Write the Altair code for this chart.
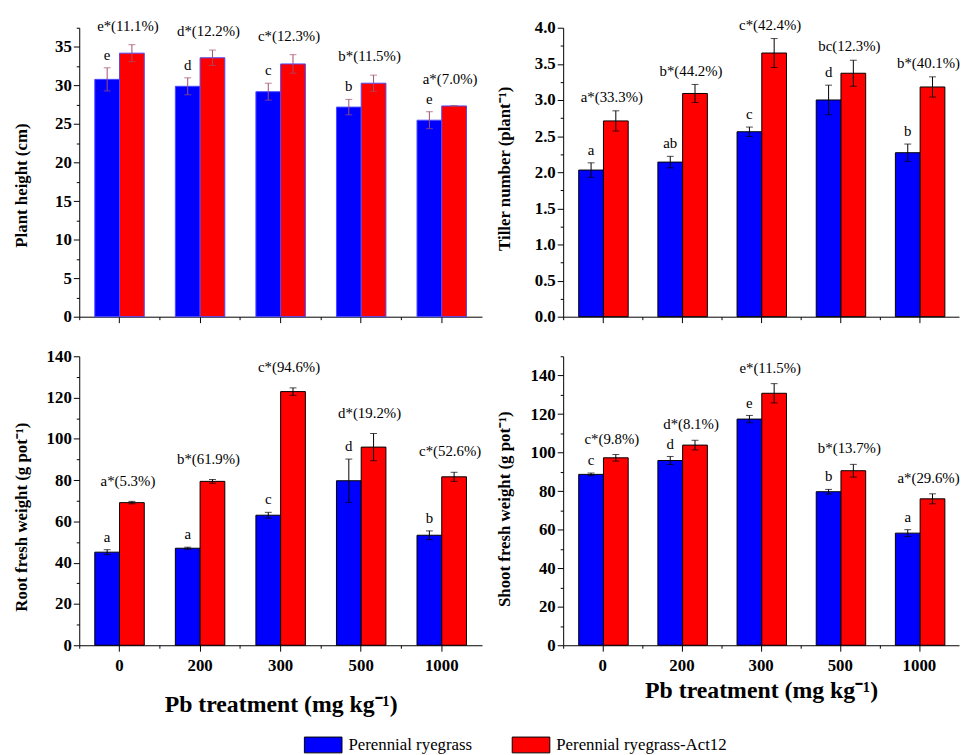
import altair as alt
import pandas as pd

FONT = "Liberation Serif"

groups = ["0", "200", "300", "500", "1000"]
series = ["Perennial ryegrass", "Perennial ryegrass-Act12"]
bar_colors = ["#0000ff", "#ff0000"]

# Plant height (cm)
ph_ctrl = [30.8, 29.9, 29.2, 27.2, 25.5]
ph_ctrl_err = [1.5, 1.1, 1.1, 1.0, 1.1]
ph_act = [34.2, 33.6, 32.8, 30.3, 27.35]
ph_act_err = [1.1, 1.0, 1.2, 1.05, 0.05]
ph_letters = ["e", "d", "c", "b", "e"]
ph_notes = ["e*(11.1%)", "d*(12.2%)", "c*(12.3%)", "b*(11.5%)", "a*(7.0%)"]

# Tiller number (plant-1)
tn_ctrl = [2.03, 2.14, 2.56, 3.00, 2.27]
tn_ctrl_err = [0.10, 0.08, 0.065, 0.205, 0.12]
tn_act = [2.71, 3.09, 3.65, 3.37, 3.18]
tn_act_err = [0.14, 0.125, 0.20, 0.18, 0.14]
tn_letters = ["a", "ab", "c", "d", "b"]
tn_notes = ["a*(33.3%)", "b*(44.2%)", "c*(42.4%)", "bc(12.3%)", "b*(40.1%)"]

# Root fresh weight (g pot-1)
rw_ctrl = [45.1, 47.0, 63.0, 79.7, 53.3]
rw_ctrl_err = [1.2, 0.5, 1.4, 10.5, 2.1]
rw_act = [69.1, 79.4, 122.9, 96.0, 81.6]
rw_act_err = [0.6, 0.9, 1.8, 6.6, 2.2]
rw_letters = ["a", "a", "c", "d", "b"]
rw_notes = ["a*(5.3%)", "b*(61.9%)", "c*(94.6%)", "d*(19.2%)", "c*(52.6%)"]

# Shoot fresh weight (g pot-1)
sw_ctrl = [88.7, 95.9, 117.4, 79.7, 58.2]
sw_ctrl_err = [0.7, 2.1, 1.9, 1.2, 1.8]
sw_act = [97.3, 103.9, 130.8, 90.6, 76.0]
sw_act_err = [1.7, 2.5, 5.0, 3.3, 2.6]
sw_letters = ["c", "d", "e", "b", "a"]
sw_notes = ["c*(9.8%)", "d*(8.1%)", "e*(11.5%)", "b*(13.7%)", "a*(29.6%)"]

ph_major = [0, 5, 10, 15, 20, 25, 30, 35]
ph_minor = [2.5, 7.5, 12.5, 17.5, 22.5, 27.5, 32.5, 37.5]
tn_major = [0, 0.5, 1.0, 1.5, 2.0, 2.5, 3.0, 3.5, 4.0]
tn_minor = [0.25, 0.75, 1.25, 1.75, 2.25, 2.75, 3.25, 3.75]
rw_major = [0, 20, 40, 60, 80, 100, 120, 140]
rw_minor = [10, 30, 50, 70, 90, 110, 130]
sw_major = [0, 20, 40, 60, 80, 100, 120, 140]
sw_minor = [10, 30, 50, 70, 90, 110, 130, 150]

BAR_W = 25
H = 292
NOTE_CLEAR_PX = 14  # keeps a note clear of the letter over the neighbouring bar

legend = alt.Legend(
    orient="none", legendX=227, legendY=705, direction="horizontal", title=None,
    symbolType="M-1,-0.42L1,-0.42L1,0.42L-1,0.42Z", symbolSize=1444,
    symbolStrokeColor="black", symbolStrokeWidth=1, symbolOpacity=1,
    labelFont=FONT, labelFontSize=17, labelColor="black", labelOffset=6,
    labelLimit=400, columnPadding=37, padding=0,
)


def panel(ctrl, ctrl_err, act, act_err, letters, notes, ytitle, ymax, major, minor,
          fmt, width, bottom, bar_stroke, err_color, note_dy, ytitle_x, ytitle_shift,
          xtitle_y=58):
    rows = []
    for i, g in enumerate(groups):
        for s, v, e in ((series[0], ctrl[i], ctrl_err[i]), (series[1], act[i], act_err[i])):
            rows.append({"group": g, "series": s, "value": v, "lo": v - e, "hi": v + e})
    df = pd.DataFrame(rows)
    ctrl_hi = [c + e for c, e in zip(ctrl, ctrl_err)]
    act_hi = [a + e for a, e in zip(act, act_err)]
    clear = NOTE_CLEAR_PX * ymax / H
    lab = pd.DataFrame({"group": groups, "series": series[0], "y": ctrl_hi, "text": letters})
    nts = pd.DataFrame({"group": groups, "series": series[1],
                        "y": [max(a, c + clear) for a, c in zip(act_hi, ctrl_hi)],
                        "text": notes})

    step = width / len(groups)
    po = (step / BAR_W - 2) / 2
    xscale = alt.Scale(domain=groups, paddingInner=0, paddingOuter=0)
    oscale = alt.Scale(domain=series, paddingInner=0, paddingOuter=po)
    yscale = alt.Scale(domain=[0, ymax], nice=False, zero=True)

    if bottom:
        xaxis = alt.Axis(title="Pb treatment (mg kg\u207b\u00b9)", labelAngle=0, labelFontSize=17,
                         labelFontWeight="bold", labelPadding=7, tickSize=6,
                         titleFontSize=24, titleFontWeight="bold", titleY=xtitle_y,
                         titleBaseline="middle", orient="bottom")
    else:
        xaxis = alt.Axis(title=None, labels=False, tickSize=6, orient="bottom")
    xminor = alt.Axis(title=None, labels=False, tickSize=3, domain=False, bandPosition=0,
                      orient="bottom")
    yaxis = alt.Axis(title=ytitle, values=major, format=fmt, tickSize=6, labelFontSize=17,
                     labelFontWeight="bold", labelPadding=2, titleFontSize=17,
                     titleFontWeight="bold", titleX=ytitle_x, titleY=H / 2 + ytitle_shift,
                     titleBaseline="middle", orient="left")
    yminor = alt.Axis(title=None, values=minor, labels=False, tickSize=3, domain=False,
                      orient="left")

    def xenc(axis):
        return alt.X("group:N", scale=xscale, axis=axis, sort=groups)

    xo = alt.XOffset("series:N", scale=oscale, sort=series)

    bars = alt.Chart(df).mark_bar(stroke=bar_stroke, strokeWidth=1).encode(
        x=xenc(xaxis), xOffset=xo,
        y=alt.Y("value:Q", scale=yscale, axis=yaxis),
        color=alt.Color("series:N", scale=alt.Scale(domain=series, range=bar_colors),
                        legend=legend),
    )
    rules = alt.Chart(df).mark_rule(color=err_color, strokeWidth=1).encode(
        x=xenc(xminor), xOffset=xo,
        y=alt.Y("lo:Q", scale=yscale, axis=yminor), y2="hi:Q",
    )
    cap_lo = alt.Chart(df).mark_tick(color=err_color, thickness=1, size=7).encode(
        x=xenc(None), xOffset=xo, y=alt.Y("lo:Q", scale=yscale, axis=None),
    )
    cap_hi = alt.Chart(df).mark_tick(color=err_color, thickness=1, size=7).encode(
        x=xenc(None), xOffset=xo, y=alt.Y("hi:Q", scale=yscale, axis=None),
    )
    let_t = alt.Chart(lab).mark_text(font=FONT, fontSize=15, baseline="middle", dy=-13,
                                     color="black").encode(
        x=xenc(None), xOffset=xo, y=alt.Y("y:Q", scale=yscale, axis=None), text="text:N",
    )
    note_t = alt.Chart(nts).mark_text(font=FONT, fontSize=15, baseline="middle", dy=note_dy,
                                      dx=-4, color="black").encode(
        x=xenc(None), xOffset=xo, y=alt.Y("y:Q", scale=yscale, axis=None), text="text:N",
    )
    return alt.layer(bars, rules, cap_lo, cap_hi, let_t, note_t).resolve_axis(
        x="independent", y="independent").properties(width=width, height=H)


tl = panel(ph_ctrl, ph_ctrl_err, ph_act, ph_act_err, ph_letters, ph_notes,
           "Plant height (cm)", 37.5, ph_major, ph_minor, "d", 407, False,
           "#4b4bff", "#a0506e", -19, -58, 13)
tr = panel(tn_ctrl, tn_ctrl_err, tn_act, tn_act_err, tn_letters, tn_notes,
           "Tiller number (plant\u207b\u00b9)", 4.0, tn_major, tn_minor, ".1f", 400, False,
           "black", "black", -14, -59, -4)
bl = panel(rw_ctrl, rw_ctrl_err, rw_act, rw_act_err, rw_letters, rw_notes,
           "Root fresh weight (g pot\u207b\u00b9)", 140, rw_major, rw_minor, "d", 407, True,
           "black", "black", -21, -58, 16, 60)
br = panel(sw_ctrl, sw_ctrl_err, sw_act, sw_act_err, sw_letters, sw_notes,
           "Shoot fresh weight (g pot\u207b\u00b9)", 150, sw_major, sw_minor, "d", 400, True,
           "black", "black", -16, -59, 8, 46)

chart = alt.concat(
    tl, tr, bl, br, columns=2, bounds="flush",
    spacing=alt.RowColnumber(row=40, column=82),
).properties(
    padding={"left": 5, "top": 5, "right": 0, "bottom": 0}
).configure_view(stroke=None).configure_axis(
    labelFont=FONT, titleFont=FONT, labelColor="black", titleColor="black",
    domainColor="black", tickColor="black", domainWidth=1, tickWidth=1, grid=False,
)

chart.save("out.html", embed_options={"renderer": "svg", "actions": False})
